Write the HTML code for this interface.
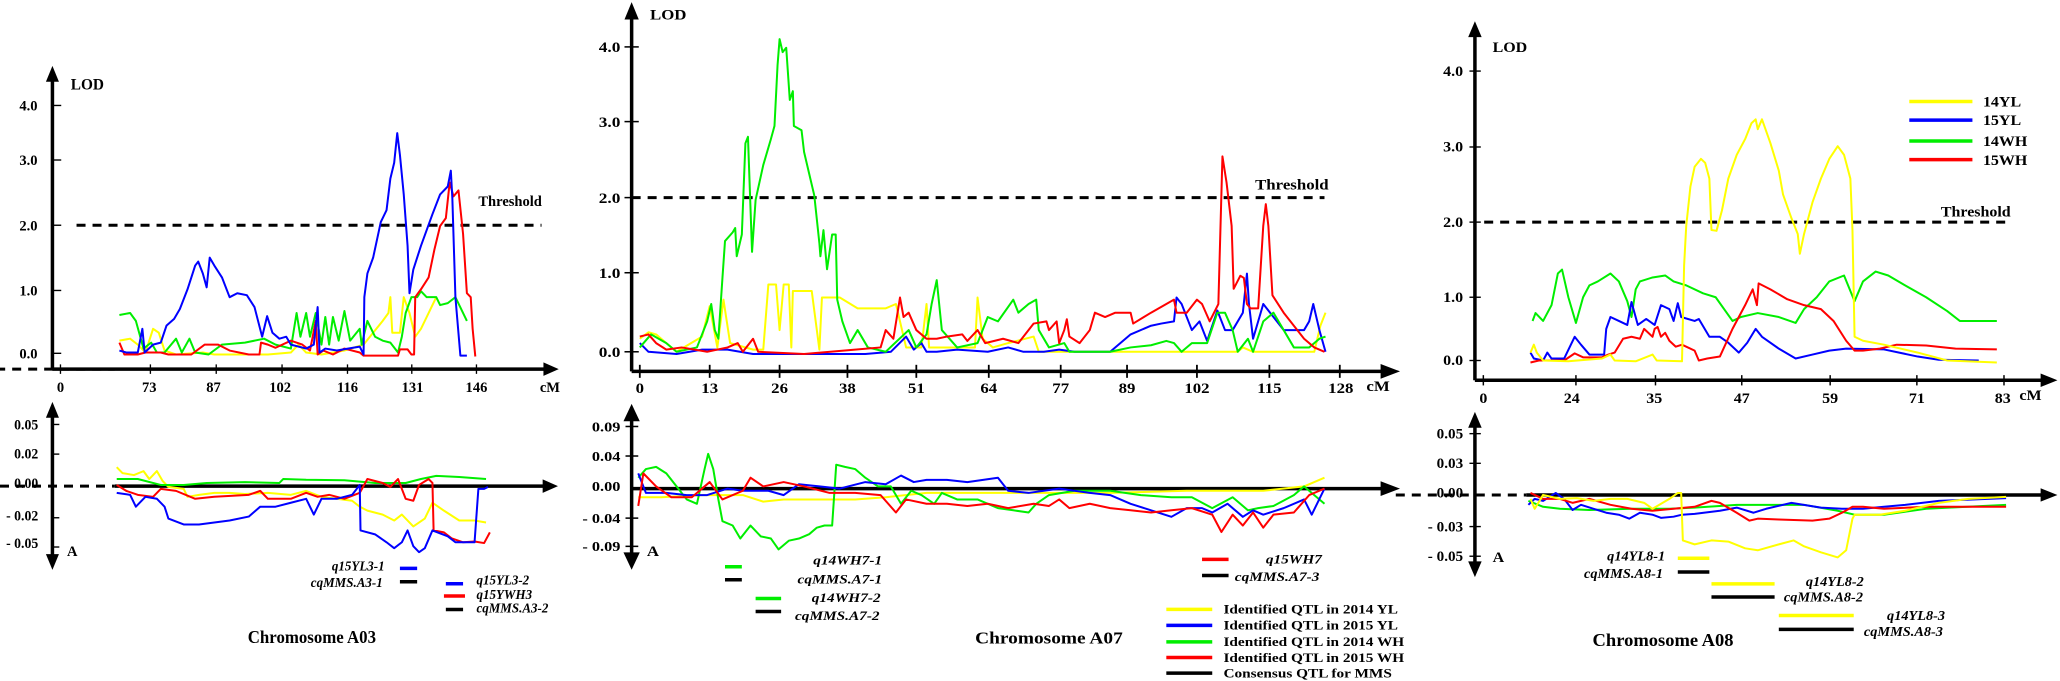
<!DOCTYPE html>
<html><head><meta charset="utf-8"><style>
html,body{margin:0;padding:0;background:#fff;}
svg{display:block;}
text{font-family:"Liberation Serif",serif;font-weight:bold;fill:#000;}
.ax{stroke:#000;stroke-width:3.5;fill:none;vector-effect:non-scaling-stroke;}
.tk{stroke:#000;stroke-width:3.5;vector-effect:non-scaling-stroke;}
.ds{stroke:#000;stroke-width:3;stroke-dasharray:9 7;fill:none;vector-effect:non-scaling-stroke;}
.l{fill:none;stroke-width:2;stroke-linejoin:round;vector-effect:non-scaling-stroke;}
.y{stroke:#ffff00}.b{stroke:#0000ff}.g{stroke:#00ee00}.r{stroke:#ff0000}
.s{stroke-width:3.5;vector-effect:non-scaling-stroke;}
.it{font-style:italic;}
</style></head><body>
<svg width="2060" height="681" viewBox="0 0 2060 681" xmlns="http://www.w3.org/2000/svg">
<rect width="2060" height="681" fill="#fff"/>

<!-- ============ A03 ============ -->
<g transform="translate(0,60) scale(0.3827,0.3953)">
<line class="ax" x1="137" y1="40" x2="137" y2="782"/>
<polygon points="137,15 120,55 154,55"/>
<line class="ax" x1="137" y1="782" x2="1435" y2="782"/>
<polygon points="1460,782 1420,765 1420,799"/>
<line class="ds" x1="-10" y1="782" x2="300" y2="782"/>
<text x="185" y="75" font-size="40">LOD</text>
<g font-size="38" text-anchor="end">
<text x="98" y="128">4.0</text><text x="98" y="266">3.0</text><text x="98" y="431">2.0</text><text x="98" y="596">1.0</text><text x="98" y="755">0.0</text></g>
<g class="tk"><line x1="137" y1="115" x2="160" y2="115"/><line x1="137" y1="253" x2="160" y2="253"/><line x1="137" y1="418" x2="160" y2="418"/><line x1="137" y1="583" x2="160" y2="583"/><line x1="137" y1="742" x2="160" y2="742"/>
<line x1="158" y1="770" x2="158" y2="794"/><line x1="393" y1="770" x2="393" y2="794"/><line x1="565" y1="770" x2="565" y2="794"/><line x1="737" y1="770" x2="737" y2="794"/><line x1="908" y1="770" x2="908" y2="794"/><line x1="1076" y1="770" x2="1076" y2="794"/><line x1="1245" y1="770" x2="1245" y2="794"/></g>
<g font-size="38" text-anchor="middle"><text x="158" y="840">0</text><text x="390" y="840">73</text><text x="558" y="840">87</text><text x="732" y="840">102</text><text x="908" y="840">116</text><text x="1078" y="840">131</text><text x="1245" y="840">146</text><text x="1437" y="840">cM</text></g>
<line class="ds" x1="200" y1="418" x2="1415" y2="418"/>
<text x="1250" y="370" font-size="38">Threshold</text>
<polyline class="l y" points="312,710 340,705 360,720 380,740 400,680 415,690 430,735 460,745 530,740 560,745 700,745 760,740 780,720 800,740 840,745 900,735 950,720 975,690 1000,660 1015,640 1020,600 1025,690 1045,690 1055,600 1070,640 1085,700 1100,680 1110,660 1130,620 1140,600"/>
<polyline class="l g" points="312,645 340,640 355,660 375,730 395,715 410,740 430,740 460,705 475,740 495,705 510,740 545,745 580,720 640,715 690,705 720,720 760,730 775,640 785,700 800,640 810,700 825,640 840,720 850,650 860,720 870,650 885,710 900,635 915,710 940,680 945,720 960,660 980,700 1000,710 1020,715 1040,740 1050,700 1060,640 1075,600 1090,600 1100,585 1115,600 1140,600 1150,620 1170,615 1190,600 1200,620 1220,660"/>
<polyline class="l r" points="312,715 325,745 360,745 380,740 420,740 440,745 500,745 535,720 570,720 600,735 650,745 678,745 682,715 700,720 720,728 760,710 790,720 810,735 825,660 830,745 845,735 870,745 900,730 940,740 950,748 1040,748 1045,732 1065,732 1075,745 1082,745 1085,600 1100,580 1120,550 1135,480 1150,420 1165,400 1175,310 1185,345 1198,330 1210,440 1220,590 1230,600 1235,680 1242,750"/>
<polyline class="l b" points="312,735 330,740 360,740 372,680 378,740 400,720 420,715 435,672 455,655 470,630 490,580 510,520 518,510 530,540 540,575 548,500 560,520 580,550 600,600 620,590 645,595 665,625 685,700 698,648 712,690 730,705 748,700 760,720 800,730 820,720 830,625 835,740 850,730 880,735 940,725 950,745 952,600 960,540 975,500 995,410 1010,380 1020,300 1030,260 1038,185 1045,240 1055,340 1065,470 1070,590 1080,530 1100,470 1130,390 1150,340 1170,320 1178,280 1182,350 1190,600 1203,748 1220,748"/>
<!-- lower -->
<line class="ax" x1="137" y1="890" x2="137" y2="1265"/>
<polygon points="137,865 120,905 154,905"/><polygon points="137,1290 120,1250 154,1250"/>
<line class="ds" x1="0" y1="1078" x2="300" y2="1078"/>
<line class="ax" x1="300" y1="1078" x2="1430" y2="1078"/>
<polygon points="1458,1078 1418,1061 1418,1095"/>
<g font-size="36" text-anchor="end"><text x="100" y="935">0.05</text><text x="100" y="1008">0.02</text><text x="100" y="1083">0.00</text><text x="100" y="1165">- 0.02</text><text x="100" y="1235">- 0.05</text></g>
<g class="tk"><line x1="137" y1="922" x2="155" y2="922"/><line x1="137" y1="997" x2="155" y2="997"/><line x1="137" y1="1158" x2="155" y2="1158"/><line x1="137" y1="1232" x2="155" y2="1232"/></g>
<text x="175" y="1255" font-size="38">A</text>
<polyline class="l y" points="305,1030 320,1045 350,1050 375,1040 390,1060 410,1040 425,1065 440,1080 480,1085 490,1105 520,1100 560,1095 600,1095 640,1098 700,1095 760,1100 800,1090 840,1105 880,1110 920,1115 940,1130 960,1140 1000,1150 1030,1165 1050,1150 1080,1180 1110,1160 1130,1120 1160,1140 1200,1165 1240,1165 1270,1170"/>
<polyline class="l g" points="305,1060 360,1060 420,1075 480,1075 540,1070 640,1068 730,1070 740,1060 800,1062 900,1063 980,1070 1060,1070 1100,1060 1140,1052 1200,1055 1270,1060"/>
<polyline class="l r" points="305,1075 330,1090 360,1100 400,1105 420,1085 460,1090 510,1110 560,1105 650,1100 680,1090 700,1110 760,1110 800,1095 830,1105 860,1100 900,1110 940,1095 960,1060 1000,1070 1020,1080 1040,1060 1060,1110 1080,1115 1095,1075 1120,1060 1130,1070 1133,1190 1160,1195 1180,1210 1210,1220 1240,1218 1265,1222 1280,1195"/>
<polyline class="l b" points="305,1095 340,1100 355,1130 380,1105 410,1110 430,1130 440,1160 480,1175 520,1175 560,1170 600,1165 650,1155 680,1130 720,1130 760,1120 800,1110 820,1150 840,1110 880,1110 920,1100 940,1075 942,1190 980,1200 1010,1220 1030,1235 1050,1220 1065,1190 1080,1230 1095,1245 1110,1235 1130,1190 1170,1205 1190,1220 1240,1220 1250,1085 1265,1085 1275,1080"/>
<g font-size="34" class="it">
<text x="1005" y="1292" text-anchor="end">q15YL3-1</text><text x="1000" y="1333" text-anchor="end">cqMMS.A3-1</text>
<text x="1245" y="1327">q15YL3-2</text><text x="1245" y="1363">q15YWH3</text><text x="1245" y="1398">cqMMS.A3-2</text></g>
<line class="s" stroke="#0000ff" x1="1045" y1="1286" x2="1090" y2="1286"/>
<line class="s" stroke="#000" x1="1045" y1="1320" x2="1090" y2="1320"/>
<line class="s" stroke="#0000ff" x1="1165" y1="1325" x2="1210" y2="1325"/>
<line class="s" stroke="#ff0000" x1="1160" y1="1356" x2="1215" y2="1356"/>
<line class="s" stroke="#000" x1="1165" y1="1390" x2="1210" y2="1390"/>
<text x="815" y="1475" font-size="44" text-anchor="middle">Chromosome A03</text>
</g>

<!-- ============ A07 ============ -->
<g transform="translate(600,0) scale(0.5102,0.4343)">
<line class="ax" x1="62" y1="30" x2="62" y2="855"/>
<polygon points="62,5 48,45 76,45"/>
<line class="ax" x1="62" y1="855" x2="1540" y2="855"/>
<polygon points="1568,855 1530,838 1530,872"/>
<text x="98" y="45" font-size="33">LOD</text>
<g font-size="34" text-anchor="end"><text x="40" y="120">4.0</text><text x="40" y="292">3.0</text><text x="40" y="467">2.0</text><text x="40" y="640">1.0</text><text x="40" y="822">0.0</text></g>
<g class="tk"><line x1="48" y1="108" x2="76" y2="108"/><line x1="48" y1="280" x2="76" y2="280"/><line x1="48" y1="455" x2="76" y2="455"/><line x1="48" y1="628" x2="76" y2="628"/><line x1="48" y1="810" x2="76" y2="810"/>
<line x1="78" y1="840" x2="78" y2="870"/><line x1="215" y1="840" x2="215" y2="870"/><line x1="352" y1="840" x2="352" y2="870"/><line x1="485" y1="840" x2="485" y2="870"/><line x1="620" y1="840" x2="620" y2="870"/><line x1="762" y1="840" x2="762" y2="870"/><line x1="903" y1="840" x2="903" y2="870"/><line x1="1033" y1="840" x2="1033" y2="870"/><line x1="1170" y1="840" x2="1170" y2="870"/><line x1="1312" y1="840" x2="1312" y2="870"/><line x1="1450" y1="840" x2="1450" y2="870"/></g>
<g font-size="33" text-anchor="middle"><text x="78" y="905">0</text><text x="215" y="905">13</text><text x="352" y="905">26</text><text x="485" y="905">38</text><text x="620" y="905">51</text><text x="762" y="905">64</text><text x="903" y="905">77</text><text x="1033" y="905">89</text><text x="1170" y="905">102</text><text x="1312" y="905">115</text><text x="1452" y="905">128</text><text x="1525" y="900">cM</text></g>
<line class="ds" x1="62" y1="455" x2="1420" y2="455"/>
<text x="1284" y="436" font-size="33">Threshold</text>
<polyline class="l y" points="78,780 95,765 110,770 130,790 150,810 200,775 215,705 230,800 242,690 255,790 300,805 320,805 330,655 345,655 352,760 360,655 370,655 375,800 378,670 380,670 415,670 430,805 435,685 470,685 505,710 560,710 580,700 600,800 630,800 640,700 645,800 700,800 735,800 740,685 750,780 770,800 800,790 850,775 860,810 1000,810 1150,810 1250,810 1260,800 1280,810 1400,810 1412,750 1422,720"/>
<polyline class="l b" points="78,790 95,810 150,815 200,805 250,805 300,815 400,815 520,815 570,810 600,775 615,805 630,790 640,810 660,810 700,805 760,810 800,800 830,810 870,810 900,805 930,810 1000,810 1040,770 1080,750 1100,745 1125,740 1130,685 1140,700 1160,760 1175,740 1190,785 1210,715 1225,760 1240,760 1260,720 1268,630 1272,700 1280,780 1300,700 1320,730 1340,760 1380,760 1390,740 1398,700 1410,760 1422,810"/>
<polyline class="l g" points="78,800 100,770 130,790 150,810 190,800 210,740 218,700 225,760 232,780 240,640 245,555 260,535 265,525 268,590 278,540 285,330 290,315 295,480 298,580 305,460 320,380 335,320 342,290 348,150 352,90 358,120 365,110 372,230 378,210 380,290 395,300 400,350 410,400 420,450 430,560 432,590 438,530 445,620 455,540 462,540 465,690 475,740 490,790 505,760 525,800 560,810 605,760 620,800 640,770 650,700 660,645 670,760 700,800 740,790 760,730 780,740 810,690 820,720 840,700 855,690 860,760 880,800 910,790 920,810 1000,810 1040,800 1080,795 1110,785 1125,790 1140,810 1160,790 1190,790 1210,720 1225,720 1240,760 1250,810 1270,780 1280,810 1300,740 1320,720 1340,760 1360,800 1390,800 1410,780 1422,775"/>
<polyline class="l r" points="78,775 95,770 110,790 130,805 160,800 210,810 250,800 270,790 280,810 300,780 310,810 400,815 500,805 550,800 560,760 575,780 588,685 595,730 605,720 620,760 640,780 660,780 680,775 710,770 720,785 740,760 755,790 790,780 820,790 850,745 875,740 880,760 895,740 900,790 910,760 915,735 920,775 940,790 960,760 970,720 990,730 1010,720 1040,720 1045,745 1080,720 1110,700 1125,690 1130,720 1150,720 1170,690 1180,700 1195,740 1212,700 1220,360 1228,420 1238,520 1242,665 1255,635 1262,640 1268,700 1275,710 1290,710 1300,520 1305,470 1310,520 1318,680 1340,720 1380,780 1400,800 1420,810"/>
<!-- lower -->
<line class="ax" x1="62" y1="955" x2="62" y2="1290"/>
<polygon points="62,930 46,970 78,970"/><polygon points="62,1312 46,1272 78,1272"/>
<line class="ax" x1="62" y1="1125" x2="1540" y2="1125"/>
<polygon points="1568,1125 1530,1108 1530,1142"/>
<g font-size="32" text-anchor="end"><text x="40" y="993">0.09</text><text x="40" y="1061">0.04</text><text x="40" y="1131">0.00</text><text x="40" y="1204">- 0.04</text><text x="40" y="1269">- 0.09</text></g>
<g class="tk"><line x1="50" y1="982" x2="75" y2="982"/><line x1="50" y1="1050" x2="75" y2="1050"/><line x1="50" y1="1193" x2="75" y2="1193"/><line x1="50" y1="1258" x2="75" y2="1258"/></g>
<text x="92" y="1280" font-size="33">A</text>
<polyline class="l y" points="75,1145 120,1145 200,1140 280,1140 320,1155 360,1150 420,1150 500,1150 560,1145 640,1135 700,1135 800,1135 860,1135 1000,1135 1150,1130 1300,1130 1380,1120 1420,1100"/>
<polyline class="l g" points="75,1100 90,1080 110,1075 130,1090 150,1120 170,1150 190,1160 205,1080 212,1045 222,1080 232,1150 240,1200 260,1210 275,1240 295,1210 315,1235 335,1240 350,1265 370,1245 390,1240 410,1230 425,1215 440,1210 455,1210 463,1070 480,1075 500,1080 520,1100 545,1120 570,1120 590,1160 610,1130 630,1140 655,1160 670,1135 700,1150 740,1150 780,1170 810,1175 840,1180 855,1160 880,1140 930,1130 1000,1130 1060,1140 1120,1145 1160,1145 1200,1170 1240,1145 1270,1175 1290,1170 1320,1165 1360,1140 1380,1120 1400,1140 1420,1160"/>
<polyline class="l b" points="75,1090 90,1135 130,1135 170,1140 210,1140 250,1125 280,1130 330,1130 360,1140 390,1115 430,1120 470,1125 520,1110 560,1115 590,1095 615,1110 640,1105 680,1105 720,1110 780,1100 800,1130 840,1135 900,1125 960,1135 1000,1140 1040,1160 1080,1175 1120,1190 1150,1170 1180,1170 1200,1180 1230,1160 1260,1190 1280,1175 1300,1185 1340,1170 1380,1150 1395,1185 1420,1125"/>
<polyline class="l r" points="75,1165 85,1090 110,1120 140,1145 180,1145 215,1110 240,1150 280,1130 295,1100 320,1120 360,1110 400,1120 450,1135 500,1135 550,1140 580,1180 600,1150 640,1160 680,1160 720,1165 760,1160 800,1170 850,1160 880,1165 900,1150 920,1170 960,1160 1000,1170 1040,1175 1080,1180 1120,1175 1160,1170 1200,1185 1218,1225 1240,1185 1260,1210 1280,1180 1300,1215 1320,1185 1360,1180 1390,1140 1410,1130 1420,1125"/>
<g font-size="30" class="it" text-anchor="end">
<text x="553" y="1300">q14WH7-1</text><text x="553" y="1343">cqMMS.A7-1</text><text x="550" y="1386">q14WH7-2</text><text x="548" y="1428">cqMMS.A7-2</text>
<text x="1415" y="1297">q15WH7</text><text x="1410" y="1338">cqMMS.A7-3</text></g>
<line class="s" stroke="#00ee00" x1="245" y1="1305" x2="278" y2="1305"/>
<line class="s" stroke="#000" x1="245" y1="1335" x2="278" y2="1335"/>
<line class="s" stroke="#00ee00" x1="305" y1="1378" x2="355" y2="1378"/>
<line class="s" stroke="#000" x1="305" y1="1408" x2="355" y2="1408"/>
<line class="s" stroke="#ff0000" x1="1180" y1="1288" x2="1232" y2="1288"/>
<line class="s" stroke="#000" x1="1180" y1="1325" x2="1232" y2="1325"/>
<line class="s" stroke="#ffff00" x1="1110" y1="1403" x2="1200" y2="1403"/>
<line class="s" stroke="#0000ff" x1="1110" y1="1440" x2="1200" y2="1440"/>
<line class="s" stroke="#00ee00" x1="1110" y1="1478" x2="1200" y2="1478"/>
<line class="s" stroke="#ff0000" x1="1110" y1="1514" x2="1200" y2="1514"/>
<line class="s" stroke="#000" x1="1110" y1="1550" x2="1200" y2="1550"/>
<g font-size="30"><text x="1222" y="1413">Identified QTL in 2014 YL</text><text x="1222" y="1450">Identified QTL in 2015 YL</text><text x="1222" y="1488">Identified QTL in 2014 WH</text><text x="1222" y="1524">Identified QTL in 2015 WH</text><text x="1222" y="1560">Consensus QTL for MMS</text></g>
<text x="880" y="1482" font-size="38" text-anchor="middle">Chromosome A07</text>
</g>

<!-- ============ A08 ============ -->
<g transform="translate(1400,60) scale(0.4209,0.3954)">
<line class="ax" x1="178" y1="-70" x2="178" y2="810"/>
<polygon points="178,-98 162,-58 194,-58"/>
<line class="ax" x1="178" y1="810" x2="1535" y2="810"/>
<polygon points="1562,810 1522,793 1522,827"/>
<line class="ds" x1="178" y1="810" x2="300" y2="810"/>
<text x="220" y="-20" font-size="38">LOD</text>
<g font-size="38" text-anchor="end"><text x="150" y="40">4.0</text><text x="150" y="232">3.0</text><text x="150" y="422">2.0</text><text x="150" y="612">1.0</text><text x="150" y="772">0.0</text></g>
<g class="tk"><line x1="165" y1="28" x2="192" y2="28"/><line x1="165" y1="220" x2="192" y2="220"/><line x1="165" y1="410" x2="192" y2="410"/><line x1="165" y1="600" x2="192" y2="600"/><line x1="165" y1="760" x2="192" y2="760"/>
<line x1="198" y1="797" x2="198" y2="823"/><line x1="418" y1="797" x2="418" y2="823"/><line x1="607" y1="797" x2="607" y2="823"/><line x1="812" y1="797" x2="812" y2="823"/><line x1="1022" y1="797" x2="1022" y2="823"/><line x1="1228" y1="797" x2="1228" y2="823"/><line x1="1435" y1="797" x2="1435" y2="823"/></g>
<g font-size="38" text-anchor="middle"><text x="198" y="867">0</text><text x="408" y="867">24</text><text x="604" y="867">35</text><text x="812" y="867">47</text><text x="1022" y="867">59</text><text x="1228" y="867">71</text><text x="1432" y="867">83</text><text x="1498" y="860">cM</text></g>
<line class="ds" x1="200" y1="410" x2="1450" y2="410"/>
<text x="1285" y="396" font-size="38">Threshold</text>
<line class="s" stroke="#ffff00" x1="1210" y1="105" x2="1360" y2="105"/>
<line class="s" stroke="#0000ff" x1="1210" y1="152" x2="1360" y2="152"/>
<line class="s" stroke="#00ee00" x1="1210" y1="205" x2="1360" y2="205"/>
<line class="s" stroke="#ff0000" x1="1210" y1="252" x2="1360" y2="252"/>
<g font-size="38"><text x="1385" y="118">14YL</text><text x="1385" y="165">15YL</text><text x="1385" y="218">14WH</text><text x="1385" y="265">15WH</text></g>
<polyline class="l g" points="315,660 322,640 340,660 360,620 375,540 385,530 400,600 418,665 435,600 450,570 470,560 500,540 520,560 540,610 550,650 560,580 570,560 600,550 630,545 650,560 680,570 720,590 750,600 790,660 810,650 850,640 900,650 940,665 960,630 990,600 1020,560 1055,545 1080,610 1100,560 1130,535 1160,545 1200,570 1250,600 1300,635 1330,660 1418,660"/>
<polyline class="l b" points="310,740 318,755 340,760 350,740 360,755 390,755 415,700 430,720 450,745 485,745 490,680 500,650 520,660 540,670 550,612 565,670 585,655 605,670 620,620 640,630 650,660 660,615 668,650 700,660 710,655 735,700 760,700 780,715 805,740 825,715 845,680 860,700 900,730 940,755 980,745 1020,735 1060,730 1150,732 1230,750 1280,758 1375,760"/>
<polyline class="l r" points="310,765 330,760 390,760 415,742 435,752 480,752 495,745 510,740 530,705 550,700 570,705 580,680 600,700 605,680 612,675 620,700 630,690 640,710 655,725 670,720 700,735 710,760 730,755 760,750 790,680 820,620 838,580 848,620 852,565 880,580 920,605 960,620 1000,630 1030,660 1060,710 1080,735 1100,735 1140,730 1180,720 1250,722 1320,730 1418,732"/>
<polyline class="l y" points="310,740 318,720 325,740 340,760 400,762 480,755 500,745 510,760 560,762 600,745 610,760 670,762 675,520 680,420 690,320 700,270 715,250 725,260 735,300 740,430 752,432 765,380 780,300 800,240 820,200 835,160 845,150 850,175 860,150 880,210 900,280 910,340 930,400 945,440 950,490 960,440 980,360 1000,300 1020,250 1040,218 1055,240 1070,300 1075,430 1080,700 1100,710 1150,720 1230,740 1300,760 1418,765"/>
<!-- lower -->
<line class="ax" x1="178" y1="915" x2="178" y2="1285"/>
<polygon points="178,890 162,930 194,930"/><polygon points="178,1308 162,1268 194,1268"/>
<line class="ds" x1="-10" y1="1100" x2="300" y2="1100"/>
<line class="ax" x1="300" y1="1100" x2="1535" y2="1100"/>
<polygon points="1562,1100 1522,1083 1522,1117"/>
<g font-size="36" text-anchor="end"><text x="150" y="957">0.05</text><text x="150" y="1032">0.03</text><text x="150" y="1107">0.00</text><text x="150" y="1192">- 0.03</text><text x="150" y="1267">- 0.05</text></g>
<g class="tk"><line x1="165" y1="945" x2="192" y2="945"/><line x1="165" y1="1020" x2="192" y2="1020"/><line x1="165" y1="1180" x2="192" y2="1180"/><line x1="165" y1="1255" x2="192" y2="1255"/></g>
<text x="220" y="1270" font-size="38">A</text>
<polyline class="l g" points="305,1115 340,1130 380,1135 450,1138 550,1135 640,1135 700,1132 800,1125 900,1125 960,1125 1040,1140 1080,1150 1150,1150 1250,1135 1440,1125"/>
<polyline class="l b" points="305,1125 320,1110 340,1115 370,1095 390,1110 410,1138 430,1125 460,1135 490,1145 520,1150 545,1160 570,1145 600,1150 620,1158 650,1155 670,1150 700,1148 760,1140 800,1132 840,1145 870,1135 930,1120 1000,1132 1050,1135 1100,1135 1150,1130 1200,1125 1280,1115 1440,1108"/>
<polyline class="l r" points="310,1095 340,1110 380,1110 410,1120 450,1110 500,1125 550,1135 600,1140 650,1135 700,1130 740,1115 760,1120 800,1145 830,1165 850,1160 900,1162 980,1165 1020,1160 1050,1145 1075,1130 1100,1130 1150,1135 1250,1130 1440,1130"/>
<polyline class="l y" points="310,1110 320,1135 340,1100 380,1110 420,1108 460,1115 500,1110 540,1110 580,1120 600,1135 640,1110 660,1095 668,1095 672,1215 700,1225 740,1215 780,1218 820,1235 850,1240 900,1225 935,1215 960,1230 1000,1245 1040,1258 1060,1240 1075,1160 1080,1150 1140,1150 1200,1140 1280,1120 1350,1110 1440,1105"/>
<g font-size="34" class="it" text-anchor="end">
<text x="630" y="1266">q14YL8-1</text><text x="625" y="1310">cqMMS.A8-1</text><text x="1102" y="1330">q14YL8-2</text><text x="1100" y="1370">cqMMS.A8-2</text><text x="1295" y="1416">q14YL8-3</text><text x="1290" y="1457">cqMMS.A8-3</text></g>
<line class="s" stroke="#ffff00" x1="660" y1="1260" x2="735" y2="1260"/>
<line class="s" stroke="#000" x1="660" y1="1295" x2="735" y2="1295"/>
<line class="s" stroke="#ffff00" x1="740" y1="1325" x2="890" y2="1325"/>
<line class="s" stroke="#000" x1="740" y1="1358" x2="890" y2="1358"/>
<line class="s" stroke="#ffff00" x1="900" y1="1405" x2="1078" y2="1405"/>
<line class="s" stroke="#000" x1="900" y1="1440" x2="1078" y2="1440"/>
<text x="625" y="1482" font-size="44" text-anchor="middle">Chromosome A08</text>
</g>
</svg>
</body></html>
